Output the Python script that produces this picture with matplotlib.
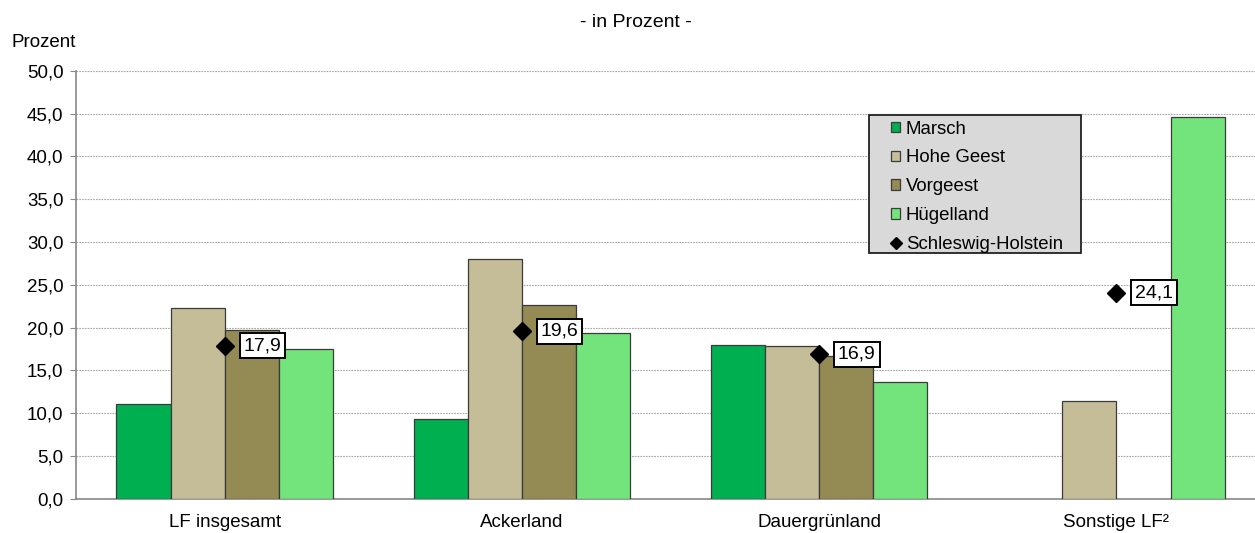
import matplotlib
matplotlib.use("Agg")
import matplotlib.pyplot as plt
import numpy as np
from matplotlib.ticker import FuncFormatter
from matplotlib.lines import Line2D
from matplotlib.patches import Rectangle

plt.rcParams['font.family'] = ['Liberation Sans', 'DejaVu Sans']

categories = ["LF insgesamt", "Ackerland", "Dauergrünland", "Sonstige LF²"]
series_names = ["Marsch", "Hohe Geest", "Vorgeest", "Hügelland"]
marsch = [11.1, 9.3, 18.0, None]
hohe_geest = [22.3, 28.0, 17.9, 11.4]
vorgeest = [19.7, 22.7, 16.7, None]
huegelland = [17.5, 19.4, 13.7, 44.6]
schleswig_holstein = [17.9, 19.6, 16.9, 24.1]
sh_labels = ["17,9", "19,6", "16,9", "24,1"]
yticks = [0, 5, 10, 15, 20, 25, 30, 35, 40, 45, 50]

colors = ["#00b050", "#c4bd97", "#948a54", "#72e47b"]

fig = plt.figure(figsize=(12.55, 5.33), dpi=100)
ax = fig.add_axes([0.0606, 0.064, 0.9474, 0.803])

x = np.arange(len(categories))
width = 0.182
all_series = [marsch, hohe_geest, vorgeest, huegelland]
handles = []
for i, (vals, name, c) in enumerate(zip(all_series, series_names, colors)):
    offs = (i - 1.5) * width
    v = np.array([np.nan if a is None else a for a in vals], dtype=float)
    b = ax.bar(x + offs, v, width, color=c, edgecolor="#3a3a3a", linewidth=0.9,
               label=name, zorder=3)
    handles.append(b)

ax.plot(x, schleswig_holstein, linestyle="none", marker="D", markersize=9,
        color="black", label="Schleswig-Holstein", zorder=5)
for xi, yi, lab in zip(x, schleswig_holstein, sh_labels):
    ax.annotate(lab, (xi, yi), xytext=(13.5, 0), textcoords="offset points",
                ha="left", va="center", fontsize=14, zorder=6,
                bbox=dict(boxstyle="square,pad=0.2", fc="white", ec="black", lw=1.4))

ax.set_xlim(-0.5, 3.5)
ax.set_ylim(0, 50)
ax.set_yticks(yticks)
ax.yaxis.set_major_formatter(FuncFormatter(lambda v, p: f"{v:.1f}".replace(".", ",")))
ax.set_xticks(x)
ax.set_xticklabels(categories)
ax.tick_params(axis="x", length=0, labelsize=13.5, pad=11)
ax.tick_params(axis="y", length=4, labelsize=13.5, color="#888888", direction="out", pad=5)

ax.grid(axis="y", color="#a6a6a6", linestyle=(0, (1.5, 1)), linewidth=0.8, zorder=0)
ax.set_axisbelow(True)
for s in ["top", "right"]:
    ax.spines[s].set_visible(False)
ax.spines["left"].set_color("#888888")
ax.spines["bottom"].set_color("#888888")
ax.spines["left"].set_linewidth(1.2)
ax.spines["bottom"].set_linewidth(1.2)

# legend frame
frame = Rectangle((0.667, 0.575), 0.178, 0.322, transform=ax.transAxes,
                  facecolor="#d9d9d9", edgecolor="#222222", linewidth=1.3, zorder=7)
ax.add_patch(frame)

leg_line = Line2D([], [], linestyle="none", marker="D", markersize=6, color="black")
leg = ax.legend(handles + [leg_line], series_names + ["Schleswig-Holstein"],
                loc="upper left", bbox_to_anchor=(0.6855, 0.884), fontsize=13.4,
                frameon=False, handlelength=0.5, handleheight=0.5,
                handletextpad=0.3, labelspacing=0.64, borderpad=0,
                borderaxespad=0)
leg.set_zorder(8)

fig.text(0.507, 0.958, "- in Prozent -", ha="center", va="center", fontsize=14)
fig.text(0.009, 0.921, "Prozent", ha="left", va="center", fontsize=13.5)

fig.savefig("out.png", dpi=100)
